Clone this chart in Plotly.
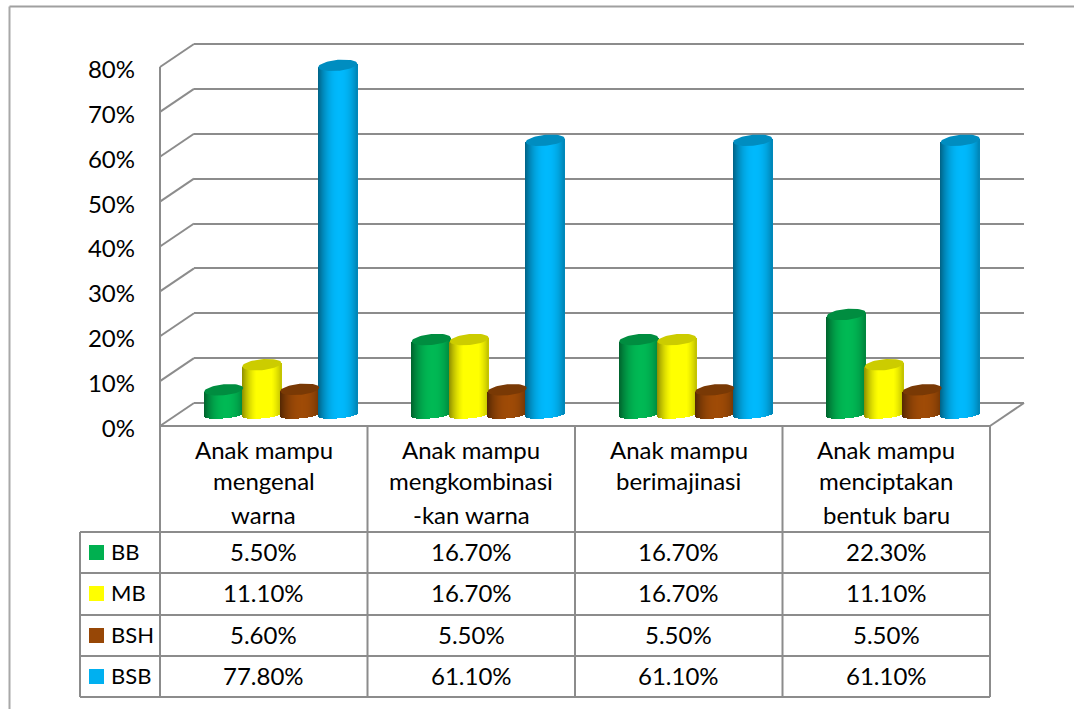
import math
import plotly.graph_objects as go

# Survey results per indicator
categories = [
    ["Anak mampu", "mengenal", "warna"],
    ["Anak mampu", "mengkombinasi", "-kan warna"],
    ["Anak mampu", "berimajinasi"],
    ["Anak mampu", "menciptakan", "bentuk baru"],
]
series_names = ["BB", "MB", "BSH", "BSB"]
bb_values = [5.5, 16.7, 16.7, 22.3]
mb_values = [11.1, 16.7, 16.7, 11.1]
bsh_values = [5.6, 5.5, 5.5, 5.5]
bsb_values = [77.8, 61.1, 61.1, 61.1]
series_values = [bb_values, mb_values, bsh_values, bsb_values]
series_colors = [(0, 176, 80), (255, 255, 0), (151, 71, 6), (0, 176, 240)]
y_ticks = [0, 10, 20, 30, 40, 50, 60, 70, 80]

W, H = 1074, 709
LINE = "#8c8c8c"
FONT = "Lato"
FS = 24

# Pixel frame of the pseudo-3D box: front plane, back wall and mid plane for the cylinders
FX0, FX1, FY0, FY1 = 160, 990, 426, 67
DX, DY = 34, -23
MX, MY = DX / 2, DY / 2
PAD = 8  # percentage points of spare axis range below and above the 0-80 scale
TABLE_LEFT = 80
ROW_LINES = [532, 573, 615, 656, 697]
ROW_CENTERS = [551, 592, 634, 675]
CAT_LINE_Y = [449, 481, 514]

BAR_PX = 39
STEP_PX = 38
STRIPS = 39
CAP_RY = 5.5
BASE_RY = 3.5
CAP_SLOPE = 0.09

px_per_cat = (FX1 - FX0) / len(categories)
px_per_pct = (FY0 - FY1) / 80


def xp(px):
    return px / W


def yp(px):
    return 1 - px / H


def y_domain(dy):
    # Domain of a value axis running from -PAD to 80+PAD, shifted dy pixels from the front plane
    return [yp(FY0 + dy + PAD * px_per_pct), yp(FY1 + dy - PAD * px_per_pct)]


def shade(color, f):
    return "rgb(%d,%d,%d)" % tuple(min(255, round(c * f)) for c in color)


def strip_factor(u):
    # Brightest just right of centre, falling off at both edges of the cylinder
    d = abs(u - 0.12) / 1.12
    return 1.05 - 0.5 * d ** 2.2


fig = go.Figure()

for s, (name, values, color) in enumerate(zip(series_names, series_values, series_colors)):
    centre = (s - 1.5) * STEP_PX / px_per_cat
    for k in range(STRIPS):
        u = -1 + (2 * k + 1) / STRIPS
        drop = BASE_RY * math.sqrt(1 - u * u) / px_per_pct
        tilt = CAP_SLOPE * (BAR_PX / 2) * u / px_per_pct
        fig.add_trace(go.Bar(
            x=[i + 0.5 + centre + u * (BAR_PX / 2) / px_per_cat for i in range(len(values))],
            y=[v + drop for v in values],
            base=[tilt - drop] * len(values),
            width=1.4 * BAR_PX / STRIPS / px_per_cat,
            marker=dict(color=shade(color, strip_factor(u)), line=dict(width=0)),
            xaxis="x3", yaxis="y3", showlegend=False, hoverinfo="skip",
        ))
    # Elliptical top of each cylinder
    for i, v in enumerate(values):
        xs, ys = [], []
        for t in range(0, 361, 6):
            a = math.radians(t)
            dx = (BAR_PX / 2) * math.cos(a)
            dy = CAP_RY * math.sin(a) + CAP_SLOPE * dx
            xs.append(i + 0.5 + centre + dx / px_per_cat)
            ys.append(v + dy / px_per_pct)
        fig.add_trace(go.Scatter(
            x=xs, y=ys, mode="lines", fill="toself", fillcolor=shade(color, 0.8),
            line=dict(width=0), xaxis="x3", yaxis="y3", showlegend=False,
            hoverinfo="skip",
        ))

shapes = []


def seg(x0, y0, x1, y1, color=LINE, width=2):
    shapes.append(dict(type="line", xref="paper", yref="paper", x0=xp(x0), y0=yp(y0),
                       x1=xp(x1), y1=yp(y1), line=dict(color=color, width=width)))


# Chart frame: only the top and left edges show
seg(9.5, 6.5, W, 6.5, "#a0a0a0", 2)
seg(9.5, 6.5, 9.5, H, "#a8a8a8", 2)

# Box edges: diagonals at each tick and the floor
for t in y_ticks:
    y = FY0 - t * px_per_pct
    seg(FX0, y, FX0 + DX, y + DY)
seg(FX1, FY0, FX1 + DX, FY0 + DY)
seg(FX0, FY0, FX1, FY0)
seg(FX0, FY1, FX0, FY0)

# Data table grid
for i in range(len(categories) + 1):
    x = FX0 + i * px_per_cat
    seg(x, FY0, x, ROW_LINES[-1])
for y in ROW_LINES:
    seg(TABLE_LEFT, y, FX1, y)
seg(TABLE_LEFT, ROW_LINES[0], TABLE_LEFT, ROW_LINES[-1])

annotations = []


def label(text, x, y, anchor="center", size=FS):
    annotations.append(dict(text=text, xref="paper", yref="paper", x=xp(x), y=yp(y), showarrow=False,
                            xanchor=anchor, yanchor="middle", font=dict(family=FONT, size=size, color="#000000")))


for i, lines in enumerate(categories):
    cx = FX0 + (i + 0.5) * px_per_cat
    for ln, y in zip(lines, CAT_LINE_Y):
        label(ln, cx, y)

for r, (name, values, color) in enumerate(zip(series_names, series_values, series_colors)):
    yc = ROW_CENTERS[r]
    shapes.append(dict(type="rect", xref="paper", yref="paper", x0=xp(89), x1=xp(104),
                       y0=yp(yc - 6), y1=yp(yc + 9), fillcolor=shade(color, 1), line=dict(width=0)))
    label(name, 109, yc, "left", 22)
    for i, v in enumerate(values):
        label("%.2f%%" % v, FX0 + (i + 0.5) * px_per_cat, yc)

hidden = dict(visible=False, fixedrange=True)
value_range = [-PAD, 80 + PAD]
fig.update_layout(
    width=W, height=H, margin=dict(l=0, r=0, t=0, b=0, pad=0, autoexpand=False),
    paper_bgcolor="white", plot_bgcolor="rgba(0,0,0,0)",
    barmode="overlay", bargap=0, showlegend=False,
    shapes=shapes, annotations=annotations,
    # Front plane: carries the percentage labels
    xaxis=dict(domain=[xp(FX0), xp(FX1)], range=[0, 4], **hidden),
    yaxis=dict(domain=y_domain(2.5), range=value_range, tickvals=y_ticks, ticktext=["%d%%" % t for t in y_ticks],
               showgrid=False, zeroline=False, showline=False, ticks="", ticklabelstandoff=24,
               tickfont=dict(family=FONT, size=FS, color="#000000"), fixedrange=True, anchor="x"),
    # Back wall: carries the gridlines
    xaxis2=dict(domain=[xp(FX0 + DX), xp(FX1 + DX)], range=[0, 4], anchor="y2", **hidden),
    yaxis2=dict(domain=y_domain(DY), range=value_range, tickvals=y_ticks, anchor="x2",
                showgrid=True, gridcolor=LINE, gridwidth=2, zeroline=False, showticklabels=False,
                ticks="", fixedrange=True),
    # Mid plane: where the cylinders stand
    xaxis3=dict(domain=[xp(FX0 + MX), xp(FX1 + MX)], range=[0, 4], anchor="y3", **hidden),
    yaxis3=dict(domain=y_domain(MY), range=value_range, anchor="x3", **hidden),
)

# An empty trace on the front and back planes keeps those axes drawn
fig.add_trace(go.Scatter(x=[0], y=[0], mode="markers", marker=dict(opacity=0), xaxis="x", yaxis="y", hoverinfo="skip"))
fig.add_trace(go.Scatter(x=[0], y=[0], mode="markers", marker=dict(opacity=0), xaxis="x2", yaxis="y2", hoverinfo="skip"))

fig.write_html("out.html", config=dict(displayModeBar=False))
